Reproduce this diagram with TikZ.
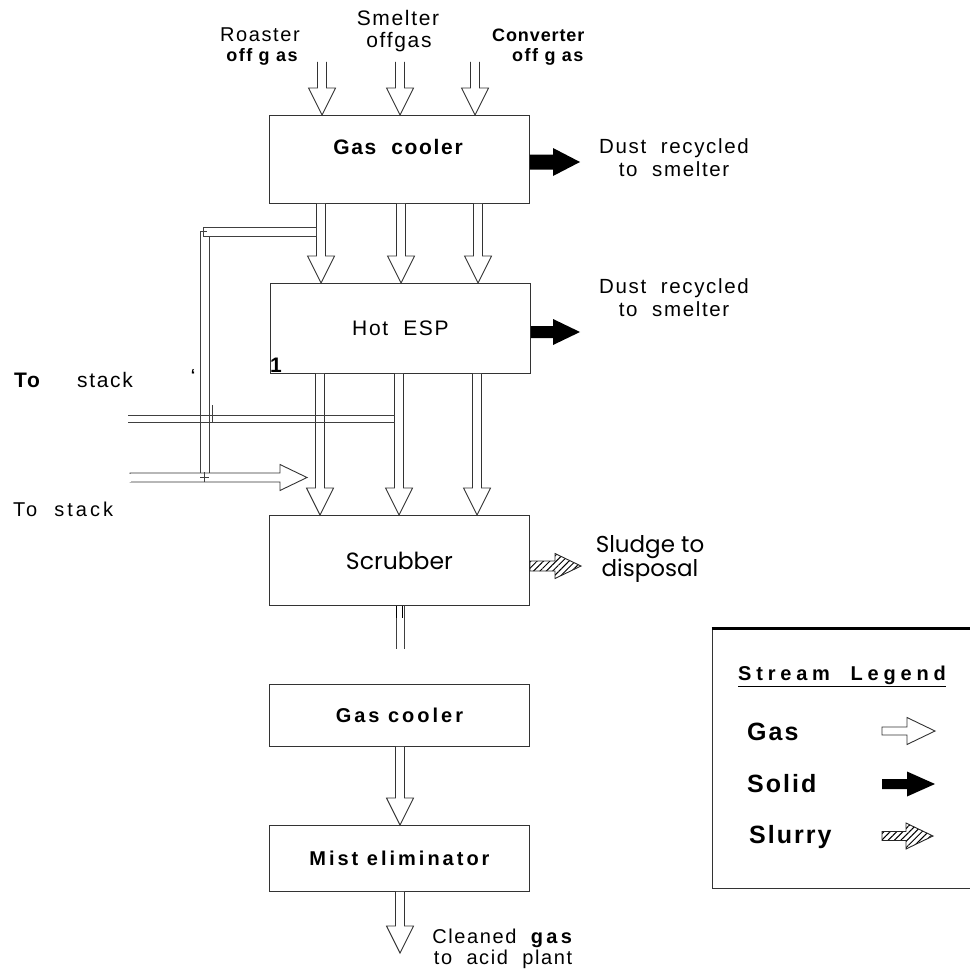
\documentclass[tikz,border=0pt]{standalone}
\usepackage{fontspec}
\setmainfont{Liberation Sans}[LetterSpace=8]
\newfontfamily\widefont{Liberation Sans}[LetterSpace=15]
\newfontfamily\legfont{Liberation Sans}[LetterSpace=24]
\newfontfamily\gothic{Poppins}
\usetikzlibrary{calc,patterns.meta}
\newcommand\fs[1]{\fontsize{#1}{#1}\selectfont}
\newcommand\fsb[2]{\fontsize{#1}{#2}\selectfont}
% vertical gas arrow: x, from, to
\newcommand\gdown[3]{%
  \draw[pipe] let \p1=(#2), \p2=(#3) in
   ({#1-4.5},\y1) -- ({#1-4.5},\y2+27pt) -- ({#1-13.5},\y2+27pt) -- (#1,\y2)
   -- ({#1+13.5},\y2+27pt) -- ({#1+4.5},\y2+27pt) -- ({#1+4.5},\y1);}
% horizontal block arrow: style, from, tip, shaft half, head half, head length
\newcommand\blockR[6]{%
  \path[#1] let \p1=(#2), \p2=(#3) in
   (\x1,\y1-#4pt) -- (\x2-#6pt,\y1-#4pt) -- (\x2-#6pt,\y1-#5pt) -- (\x2,\y1)
   -- (\x2-#6pt,\y1+#5pt) -- (\x2-#6pt,\y1+#4pt) -- (\x1,\y1+#4pt) -- cycle;}
\begin{document}
\begin{tikzpicture}[x=1pt,y=-1pt,
  box/.style={draw=black!80,line width=0.9pt,minimum width=260pt,anchor=north west,inner sep=0pt,align=center},
  pipe/.style={draw=black!80,line width=0.9pt,fill=white},
  pline/.style={draw=black!75,line width=0.9pt},
  solid/.style={fill=black},
  gasl/.style={draw=black!80,line width=0.9pt,fill=white},
  slurry/.style={draw=black!85,line width=0.9pt,pattern={Lines[angle=45,distance=4.5pt,line width=1pt]}},
  txt/.style={inner sep=0pt,align=center}]
\useasboundingbox (0,0) rectangle (970,971);

% ---- boxes
\node[box,minimum height=88pt] (gc1) at (269,115) {};
\node[txt] (gc1t) at (398,147) {\fs{21}\bfseries Gas\ \ cooler};
\node[box,minimum height=90pt] (esp) at (270,283) {\fs{21}Hot\ \ ESP};
\node[box,minimum height=90pt] (scr) at (269,515) {\gothic\fs{23.5}Scrubber};
\node[box,minimum height=62pt] (gc2) at (269,684) {\widefont\fs{20}\bfseries Gas\ cooler};
\node[box,minimum height=66pt] (mist) at (269,825) {\widefont\fs{20}\bfseries Mist\ eliminator};

% ---- top inputs
\node[txt] (roaster) at (260,35) {\fs{20}Roaster};
\node[txt] (roff) at (262,57) {\fs{18}\bfseries off g as};
\node[txt] (smelter) at (398,18) {\fs{21}Smelter};
\node[txt] (soff) at (399,42) {\fs{21}offgas};
\node[txt,anchor=west] (conv) at (492,35) {\fsb{18}{18}\addfontfeature{LetterSpace=5}\bfseries Converter};
\node[txt,anchor=west] (coff) at (512,57) {\fs{18}\bfseries off g as};
\coordinate (in1) at (322,62);
\coordinate (in2) at (400,62);
\coordinate (in3) at (475,62);
\gdown{322}{in1}{gc1.north}
\gdown{400}{in2}{gc1.north}
\gdown{475}{in3}{gc1.north}

% ---- gas cooler -> hot ESP
\gdown{321}{gc1.south}{esp.north}
\gdown{401}{gc1.south}{esp.north}
\gdown{478}{gc1.south}{esp.north}

% ---- hot ESP -> scrubber
\gdown{320}{esp.south}{scr.north}
\gdown{399}{esp.south}{scr.north}
\gdown{477}{esp.south}{scr.north}

% ---- dust outputs
\coordinate (d1) at (580,162);
\coordinate (d2) at (580,332);
\blockR{solid}{gc1.east |- d1}{d1}{7.5}{14}{27}
\blockR{solid}{esp.east |- d2}{d2}{6}{13}{27}
\node[txt,font=\fsb{20.5}{23}] (dust1) at (674,158) {Dust\ \ recycled\\to\ \ smelter};
\node[txt,font=\fsb{20.5}{23}] (dust2) at (674,298) {Dust\ \ recycled\\to\ \ smelter};

% ---- slurry output
\coordinate (s1) at (581,566);
\blockR{slurry}{scr.east |- s1}{s1}{5}{12.5}{26}
\node[txt,font=\gothic\fsb{23}{23}] (sludge) at (650,559) {Sludge to\\disposal};

% ---- bypass pipes to stack
\coordinate (bp1) at (316,227);
\coordinate (bp2) at (316,236);
\draw[pline] (bp1) -- (203,227) -- (203,236) -- (bp2) -- cycle;
\draw[pline] (200,231) -- (200,473);
\draw[pline] (209,236) -- (209,473);
\draw[pline] (200,231) -- (207,231);
\draw[pline] (128,415) -- (395,415);
\draw[pline] (128,422) -- (395,422);
\draw[pline] (212,405) -- (212,422);
\coordinate (stk1) at (130,477.5);
\coordinate (stk2) at (307,477.5);
\blockR{gasl}{stk1}{stk2}{4.5}{13}{27}
\draw[draw=white,line width=1.2pt] (130,473.5) -- (130,481.5);
\draw[pline] (200,477) -- (209,477);
\draw[pline] (204.5,472) -- (204.5,482);
\node[txt,anchor=west] (to1) at (14,380) {\fs{21}\bfseries To};
\node[txt,anchor=west] (st1) at (77,380) {\fs{21}stack};
\node[txt,anchor=west] (to2) at (13,509) {\widefont\fs{20}To\ \ stack};
\node[txt] (q) at (193,375) {\fs{16}\bfseries ‘};
\node[txt] (one) at (276,365) {\fs{21}\bfseries 1};

% ---- scrubber -> gas cooler 2 (pipe)
\coordinate (pe) at (400,649);
\draw[pline] let \p1=(scr.south), \p2=(pe) in (396,\y1) -- (396,\y2) (404,\y1) -- (404,\y2);
\draw[line width=1.6pt] let \p1=(scr.south) in (396.5,\y1) -- (396.5,\y1-12pt) (402.5,\y1) -- (402.5,\y1-12pt);

% ---- gas cooler 2 -> mist eliminator -> out
\gdown{400}{gc2.south}{mist.north}
\coordinate (out) at (400,953);
\gdown{400}{mist.south}{out}
\node[txt,font=\fsb{20}{21}] (clean) at (503,949) {Cleaned\ \ \textbf{g\,a\,s}\\to\ \ acid\ \ plant};

% ---- legend
\coordinate (lg1) at (712,628);
\coordinate (lg2) at (970,888);
\draw[line width=0.9pt,draw=black!80] (lg2 -| lg1) -- (lg2) (lg1) -- (lg2 -| lg1);
\draw[line width=3pt] ([xshift=-0.45pt]lg1) -- (lg1 -| lg2);
\node[txt,anchor=west] (lgt) at (738,676) {\legfont\fs{20}\bfseries \underline{Stream\ \ Legend}};
\node[txt,anchor=west] (lgas) at (747,732) {\fs{25}\bfseries Gas};
\node[txt,anchor=west] (lsol) at (747,784) {\fs{25}\bfseries Solid};
\node[txt,anchor=west] (lslu) at (749,837) {\fs{25}\bfseries Slurry};
\coordinate (ga) at (882,731); \coordinate (gb) at (935,731);
\coordinate (sa) at (882,784); \coordinate (sb) at (935,784);
\coordinate (ua) at (882,836); \coordinate (ub) at (933,836);
\blockR{gasl}{ga}{gb}{4}{13.5}{28}
\blockR{solid}{sa}{sb}{5}{12.5}{28}
\blockR{slurry}{ua}{ub}{4.5}{13}{27}
\end{tikzpicture}
\end{document}
